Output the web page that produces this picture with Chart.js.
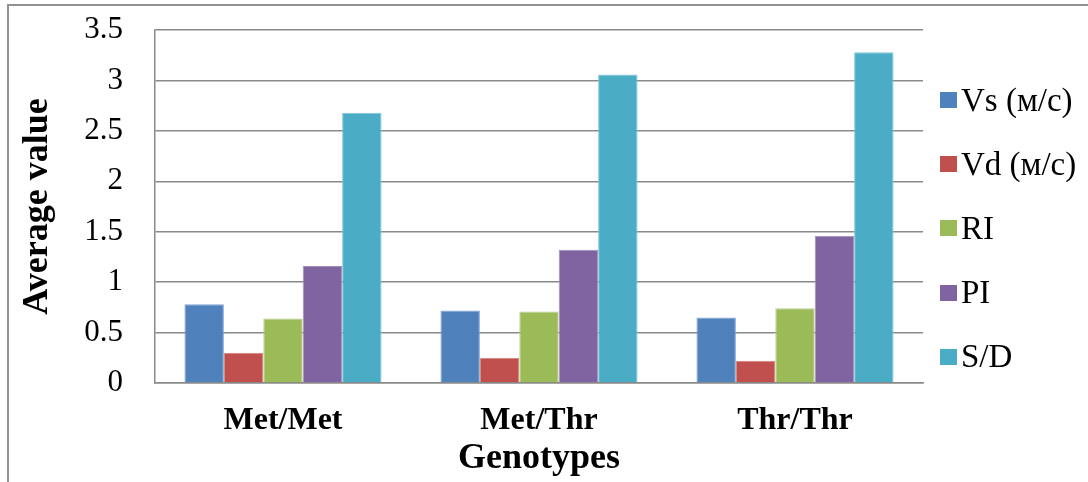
<!DOCTYPE html>
<html>
<head>
<meta charset="utf-8">
<script src="https://cdn.jsdelivr.net/npm/chart.js@4.4.1/dist/chart.umd.min.js"></script>
<style>
  html, body { margin: 0; padding: 0; background: #fff; }
  #wrap { position: relative; width: 1088px; height: 482px; overflow: hidden; }
  #frame { position: absolute; left: 7px; top: 4px; right: -4px; bottom: -4px;
           border-left: 2px solid #929292; border-top: 2px solid #929292; pointer-events: none; }
  #chart { position: absolute; left: 0; top: 0; }
  #legend { position: absolute; left: 940px; top: 68px; margin: 0; padding: 0; list-style: none;
            font-family: "Liberation Serif", "Times New Roman", serif; font-size: 33px; color: #000; }
  #legend li { height: 64.2px; display: flex; align-items: center; white-space: nowrap; }
  #legend .box { width: 17px; height: 16px; margin-right: 4px; flex: none; }
</style>
</head>
<body>
<div id="wrap">
  <canvas id="chart" width="1088" height="482"></canvas>
  <ul id="legend"></ul>
  <div id="frame"></div>
</div>
<script>
// Genotype groups and the Doppler indices measured for each
const categories = ['Met/Met', 'Met/Thr', 'Thr/Thr'];
const seriesNames = ['Vs (м/с)', 'Vd (м/с)', 'RI', 'PI', 'S/D'];
const vsValues = [0.78, 0.72, 0.65];
const vdValues = [0.30, 0.25, 0.22];
const riValues = [0.64, 0.71, 0.74];
const piValues = [1.16, 1.32, 1.46];
const sdValues = [2.68, 3.06, 3.28];
const yTickValues = [0, 0.5, 1, 1.5, 2, 2.5, 3, 3.5];

const seriesColors = ['#4F81BD', '#C0504D', '#9BBB59', '#8064A2', '#4BACC6'];
const seriesEdges  = ['#7fa3d1', '#d48582', '#b9d08a', '#a48fc0', '#80c7da'];
const seriesValues = [vsValues, vdValues, riValues, piValues, sdValues];

const serif = '"Liberation Serif", "Times New Roman", serif';
const gridGray = '#8a8a8a';

const datasets = seriesNames.map((name, i) => ({
  label: name,
  data: seriesValues[i],
  backgroundColor: seriesColors[i],
  borderColor: seriesEdges[i],
  borderWidth: 1,
  borderSkipped: 'bottom',
  barPercentage: 1.0,
  categoryPercentage: 0.77
}));

const chart = new Chart(document.getElementById('chart'), {
  type: 'bar',
  data: { labels: categories, datasets },
  options: {
    responsive: false,
    animation: false,
    events: [],
    layout: { padding: { left: 0, right: 165, top: 30, bottom: 0 } },
    plugins: {
      legend: { display: false },
      tooltip: { enabled: false }
    },
    scales: {
      x: {
        grid: { display: false, drawTicks: false },
        border: { display: true, color: gridGray, width: 1.5 },
        ticks: {
          color: '#000',
          padding: 19,
          font: { family: serif, size: 32, weight: 'bold' }
        },
        title: {
          display: true,
          text: 'Genotypes',
          color: '#000',
          padding: { top: 0, bottom: 2 },
          font: { family: serif, size: 36, weight: 'bold' }
        },
        afterFit: (scale) => { scale.height = 99; }
      },
      y: {
        min: 0,
        max: 3.5,
        afterBuildTicks: (scale) => { scale.ticks = yTickValues.map(v => ({ value: v })); },
        // invisible tick marks keep the labels clear of the axis line
        grid: { color: gridGray, lineWidth: 1.5, drawTicks: true, tickLength: 32, tickColor: 'rgba(0,0,0,0)' },
        border: { display: true, color: gridGray, width: 1.5 },
        ticks: {
          color: '#000',
          padding: 0,
          font: { family: serif, size: 31 },
          callback: (v) => String(v)
        },
        title: {
          display: true,
          text: 'Average value',
          color: '#000',
          padding: { top: 16, bottom: 0 },
          font: { family: serif, size: 36, weight: 'bold' }
        },
        afterFit: (scale) => { scale.width = 155; }
      }
    }
  }
});

// Legend built from the chart's own legend items
const legendEl = document.getElementById('legend');
chart.options.plugins.legend.labels.generateLabels(chart).forEach(item => {
  const li = document.createElement('li');
  const box = document.createElement('span');
  box.className = 'box';
  box.style.background = item.fillStyle;
  const txt = document.createElement('span');
  txt.textContent = item.text;
  li.appendChild(box);
  li.appendChild(txt);
  legendEl.appendChild(li);
});
</script>
</body>
</html>
